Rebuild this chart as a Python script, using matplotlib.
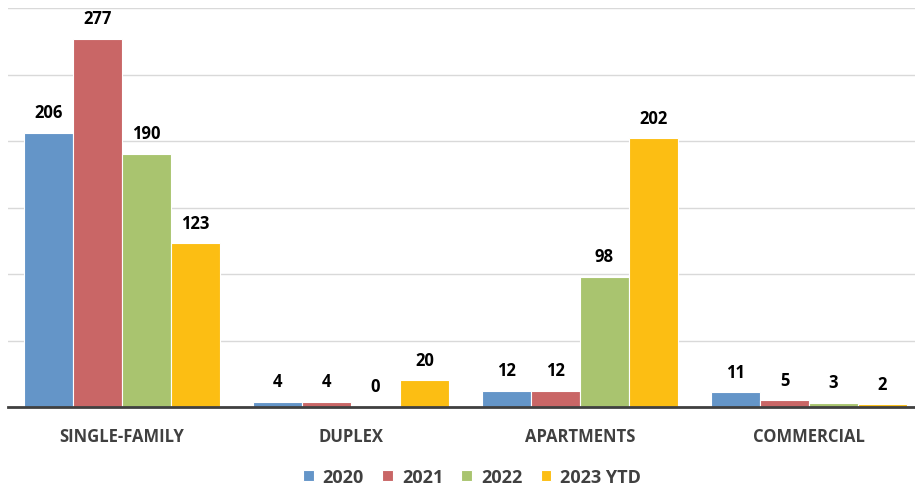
import numpy as np
import matplotlib.pyplot as plt

categories = ['SINGLE-FAMILY', 'DUPLEX', 'APARTMENTS', 'COMMERCIAL']
series_names = ['2020', '2021', '2022', '2023 YTD']
values_2020 = [206, 4, 12, 11]
values_2021 = [277, 4, 12, 5]
values_2022 = [190, 0, 98, 3]
values_2023 = [123, 20, 202, 2]
colors = ['#6495c8', '#c96666', '#a9c46f', '#fcbe13']

plt.rcParams['font.family'] = ['Open Sans', 'DejaVu Sans']

fig = plt.figure(figsize=(9.15, 4.89), dpi=100)
ax = fig.add_axes([8 / 915, 81 / 489, 1 - 8 / 915, 399 / 489])

x = np.arange(len(categories))
bar_w = 0.214
all_values = [values_2020, values_2021, values_2022, values_2023]

for k, (vals, name, col) in enumerate(zip(all_values, series_names, colors)):
    pos = x + (k - 1.5) * bar_w
    bars = ax.bar(pos, vals, width=bar_w, color=col, edgecolor='#ffffff',
                  linewidth=0.8, label=name, zorder=3)
    for b, v in zip(bars, vals):
        ax.annotate(str(v), (b.get_x() + b.get_width() / 2, v),
                    xytext=(0, 15), textcoords='offset points',
                    ha='center', va='center', fontsize=12,
                    fontweight='bold', color='black')

ax.set_xlim(-0.498, 3.463)
ax.set_ylim(0, 300)
ax.set_yticks(np.arange(0, 301, 50))
ax.yaxis.grid(True, color='#d9d9d9', linewidth=1, zorder=0)
ax.tick_params(axis='y', left=False, labelleft=False)
ax.tick_params(axis='x', bottom=False, pad=11)
ax.set_xticks(x)
ax.set_xticklabels(categories, fontsize=12, fontweight='bold', color='#404040')
for s in ['top', 'right', 'left']:
    ax.spines[s].set_visible(False)
ax.spines['bottom'].set_color('#404040')
ax.spines['bottom'].set_linewidth(2)
ax.spines['bottom'].set_zorder(4)

leg = fig.legend(loc='center', bbox_to_anchor=(472 / 915, 1 - 478 / 489),
                 ncol=4, frameon=False, handlelength=0.6, handleheight=0.6,
                 handletextpad=0.5, columnspacing=1.0,
                 prop={'size': 13, 'weight': 'bold'})
for t in leg.get_texts():
    t.set_color('#404040')

fig.savefig('out.png', dpi=100)
